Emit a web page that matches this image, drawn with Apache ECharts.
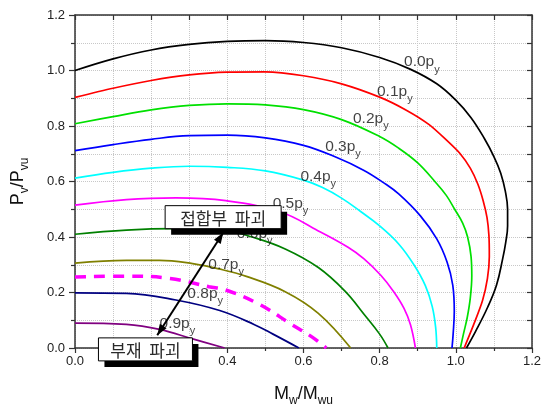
<!DOCTYPE html>
<html>
<head>
<meta charset="utf-8">
<script src="https://cdn.jsdelivr.net/npm/echarts@6/dist/echarts.min.js"></script>
<style>
  html, body { margin: 0; padding: 0; background: #fff; }
  #chart { width: 544px; height: 412px; }
</style>
</head>
<body>
<div id="chart"></div>
<script>
// Moment–shear interaction curves (Mw/Mwu vs Pv/Pvu) for axial load levels 0.0py … 0.9py

const xTicks = [0.0, 0.2, 0.4, 0.6, 0.8, 1.0, 1.2];
const yTicks = [0.0, 0.2, 0.4, 0.6, 0.8, 1.0, 1.2];

const levelNames = ['0.0', '0.1', '0.2', '0.3', '0.4', '0.5', '0.6', '0.7', '0.8', '0.9'];

const curve00 = [[0,1.0],[0.1,1.042],[0.2,1.074],[0.3,1.094],[0.4,1.105],[0.5,1.108],[0.6,1.101],[0.7,1.082],[0.8,1.047],[0.88,1.005],[0.95,0.952],[1.0,0.893],[1.04,0.83],[1.075,0.755],[1.1,0.69],[1.118,0.63],[1.13,0.565],[1.136,0.5],[1.136,0.44],[1.131,0.38],[1.123,0.321],[1.107,0.227],[1.083,0.145],[1.052,0.06],[1.028,0]];
const curve01 = [[0,0.903],[0.1,0.936],[0.2,0.964],[0.3,0.984],[0.4,0.994],[0.5,0.995],[0.6,0.981],[0.7,0.952],[0.8,0.904],[0.87,0.857],[0.93,0.805],[0.975,0.75],[1.011,0.701],[1.038,0.648],[1.058,0.59],[1.072,0.53],[1.082,0.47],[1.087,0.405],[1.088,0.33],[1.083,0.25],[1.07,0.17],[1.05,0.095],[1.022,0]];
const curve02 = [[0,0.808],[0.1,0.834],[0.2,0.858],[0.3,0.874],[0.4,0.88],[0.5,0.876],[0.6,0.859],[0.7,0.823],[0.8,0.762],[0.85,0.72],[0.9,0.667],[0.945,0.6],[0.975,0.55],[0.997,0.5],[1.018,0.45],[1.031,0.4],[1.04,0.33],[1.042,0.26],[1.038,0.18],[1.03,0.11],[1.02,0.05],[1.012,0]];
const curve03 = [[0,0.711],[0.1,0.733],[0.2,0.752],[0.3,0.765],[0.4,0.767],[0.5,0.757],[0.6,0.73],[0.683,0.689],[0.759,0.64],[0.811,0.595],[0.85,0.555],[0.907,0.476],[0.95,0.393],[0.977,0.31],[0.992,0.227],[0.996,0.132],[0.993,0.05],[0.99,0]];
const curve04 = [[0,0.612],[0.1,0.633],[0.2,0.648],[0.3,0.655],[0.4,0.651],[0.5,0.638],[0.6,0.605],[0.65,0.578],[0.7,0.54],[0.75,0.492],[0.8,0.44],[0.85,0.375],[0.89,0.3],[0.92,0.225],[0.938,0.15],[0.947,0.075],[0.95,0]];
const curve05 = [[0,0.515],[0.135,0.535],[0.265,0.541],[0.396,0.531],[0.54,0.49],[0.639,0.422],[0.717,0.363],[0.759,0.321],[0.803,0.262],[0.837,0.203],[0.864,0.143],[0.881,0.084],[0.894,0]];
const curve06 = [[0,0.41],[0.135,0.425],[0.265,0.43],[0.396,0.423],[0.465,0.4],[0.552,0.357],[0.639,0.29],[0.709,0.205],[0.76,0.12],[0.8,0.05],[0.822,0]];
const curve07 = [[0,0.306],[0.135,0.316],[0.222,0.316],[0.309,0.304],[0.378,0.285],[0.45,0.258],[0.552,0.203],[0.639,0.125],[0.724,0]];
const curveDash = [[0,0.256],[0.135,0.259],[0.248,0.251],[0.352,0.221],[0.396,0.209],[0.483,0.158],[0.57,0.084],[0.622,0.04],[0.66,0]];
const curve08 = [[0,0.199],[0.135,0.197],[0.265,0.173],[0.38,0.135],[0.47,0.085],[0.52,0.05],[0.588,0]];
const curve09 = [[0,0.09],[0.135,0.085],[0.222,0.067],[0.309,0.033],[0.393,0]];

// label anchors (left edge, vertical centre of the "0.np" text), in data units
const labelAnchors = [[0.864,1.03],[0.793,0.925],[0.73,0.826],[0.657,0.726],[0.592,0.619],[0.519,0.52],[0.425,0.413],[0.35,0.3],[0.295,0.196],[0.222,0.089]];

// annotation boxes and the double arrow between them, in data units
const boxJoint = { text: '접합부  파괴', center: [0.389, 0.4715] };
const boxMember = { text: '부재  파괴', center: [0.185, -0.005] };
const arrowEnds = [[0.216, 0.046], [0.3895, 0.416]];

const curveData = [curve00, curve01, curve02, curve03, curve04, curve05, curve06, curve07, curveDash, curve08, curve09];
const curveColors = ['#000000', '#ff0000', '#00e000', '#0000ff', '#00ffff', '#ff00ff', '#008000', '#808000', '#ff00ff', '#000080', '#800080'];
const curveSmooth = [0.4, 0.25, 0.4, 0.4, 0.4, 0.4, 0.4, 0.4, 0.4, 0.4, 0.4];

const chart = echarts.init(document.getElementById('chart'), null, { renderer: 'canvas' });

const FONT = 'Arial, "Liberation Sans", sans-serif';
const axisColor = '#333';
const gridStyle = { type: 'dotted', color: '#c8c8c8', width: 1 };
const fmt = v => v.toFixed(1);

function baseAxis(extra) {
  return Object.assign({
    type: 'value', min: 0, max: 1.2, interval: 0.2,
    axisLine: { show: true, onZero: false, lineStyle: { color: axisColor, width: 1.5 } },
    axisTick: { show: true, length: 6, lineStyle: { color: axisColor, width: 1.2 } },
    minorTick: { show: true, splitNumber: 2, length: 4, lineStyle: { color: axisColor, width: 1.2 } },
    splitLine: { show: false },
    minorSplitLine: { show: false },
    axisLabel: { show: false }
  }, extra);
}

const lineSeries = curveData.map((pts, i) => ({
  type: 'line',
  xAxisIndex: 0, yAxisIndex: 0,
  data: pts,
  smooth: curveSmooth[i],
  symbol: 'none',
  silent: true,
  z: 2,
  lineStyle: i === 8
    ? { color: curveColors[i], width: 3.5, type: [11, 8] }
    : { color: curveColors[i], width: 1.7 }
}));

const labelSeries = {
  type: 'scatter',
  xAxisIndex: 0, yAxisIndex: 0,
  symbolSize: 0,
  silent: true,
  z: 3,
  data: labelAnchors.map((p, i) => ({ value: p, name: levelNames[i] })),
  label: {
    show: true,
    position: 'right',
    distance: 0,
    formatter: p => '{a|' + p.name + 'p}{b|y}',
    rich: {
      a: { fontFamily: FONT, fontSize: 15.5, color: '#111', lineHeight: 26, verticalAlign: 'middle' },
      b: { fontFamily: FONT, fontSize: 11, color: '#111', lineHeight: 26, verticalAlign: 'bottom' }
    }
  }
};

const titleRich = {
  m: { fontFamily: FONT, fontSize: 18, color: '#111', lineHeight: 26, verticalAlign: 'middle' },
  s: { fontFamily: FONT, fontSize: 12, color: '#111', lineHeight: 26, verticalAlign: 'bottom' }
};

chart.setOption({
  animation: false,
  backgroundColor: '#fff',
  grid: { left: 75, right: 9, top: 15, bottom: 60, containLabel: false },
  xAxis: [
    baseAxis({
      position: 'bottom',
      splitLine: { show: true, lineStyle: gridStyle },
      minorSplitLine: { show: true, lineStyle: gridStyle },
      axisTick: { show: true, length: 5, lineStyle: { color: axisColor, width: 1.2 } },
      minorTick: { show: true, splitNumber: 2, length: 3, lineStyle: { color: axisColor, width: 1.2 } },
      axisLabel: { show: true, formatter: fmt, fontFamily: FONT, fontSize: 13, color: '#222', margin: 7,
        customValues: xTicks },
      name: '{m|M}{s|w}{m|/M}{s|wu}',
      nameLocation: 'middle',
      nameGap: 33,
      nameTextStyle: { rich: titleRich }
    }),
    baseAxis({ position: 'top', axisTick: { show: true, inside: true, length: 5, lineStyle: { color: axisColor, width: 1.2 } },
      minorTick: { show: true, splitNumber: 2, length: 5, lineStyle: { color: axisColor, width: 1.2 } } })
  ],
  yAxis: [
    baseAxis({
      position: 'left',
      splitLine: { show: true, lineStyle: gridStyle },
      minorSplitLine: { show: true, lineStyle: gridStyle },
      axisLabel: { show: true, formatter: fmt, fontFamily: FONT, fontSize: 13, color: '#222', margin: 10,
        customValues: yTicks },
      name: '{m|P}{s|v}{m|/P}{s|vu}',
      nameLocation: 'middle',
      nameRotate: 90,
      nameGap: 44,
      nameTextStyle: { rich: titleRich }
    }),
    baseAxis({ position: 'right', axisTick: { show: true, inside: true, length: 5, lineStyle: { color: axisColor, width: 1.2 } },
      minorTick: { show: true, splitNumber: 2, length: 5, lineStyle: { color: axisColor, width: 1.2 } } })
  ],
  series: lineSeries.concat([labelSeries])
});

// Annotation boxes with drop shadows and the double-headed arrow, placed through the grid's coordinate system
function toPx(p) { return chart.convertToPixel({ gridIndex: 0 }, p); }

function boxGraphics(box, w, h) {
  const c = toPx(box.center);
  const x = c[0] - w / 2, y = c[1] - h / 2;
  return [
    { type: 'rect', z: 100, shape: { x: x + 6, y: y + 6, width: w, height: h }, style: { fill: '#000' } },
    { type: 'rect', z: 101, shape: { x: x, y: y, width: w, height: h }, style: { fill: '#fff', stroke: '#000', lineWidth: 1 } },
    { type: 'text', z: 102, x: c[0], y: c[1] + 1,
      style: { text: box.text, fill: '#2a2a2a', font: '17px "Noto Sans CJK KR", sans-serif', align: 'center', verticalAlign: 'middle' } }
  ];
}

function arrowHead(tip, from, len, half) {
  const dx = tip[0] - from[0], dy = tip[1] - from[1];
  const d = Math.hypot(dx, dy);
  const ux = dx / d, uy = dy / d;
  const bx = tip[0] - ux * len, by = tip[1] - uy * len;
  return { type: 'polygon', z: 99,
    shape: { points: [tip, [bx - uy * half, by + ux * half], [bx + uy * half, by - ux * half]] },
    style: { fill: '#000' } };
}

const a0 = toPx(arrowEnds[0]);
const a1 = toPx(arrowEnds[1]);
chart.setOption({
  graphic: [
    { type: 'line', z: 99, shape: { x1: a0[0], y1: a0[1], x2: a1[0], y2: a1[1] }, style: { stroke: '#000', lineWidth: 2 } },
    arrowHead(a0, a1, 11, 4),
    arrowHead(a1, a0, 11, 4)
  ].concat(boxGraphics(boxJoint, 116, 23), boxGraphics(boxMember, 94, 23))
});
</script>
</body>
</html>
